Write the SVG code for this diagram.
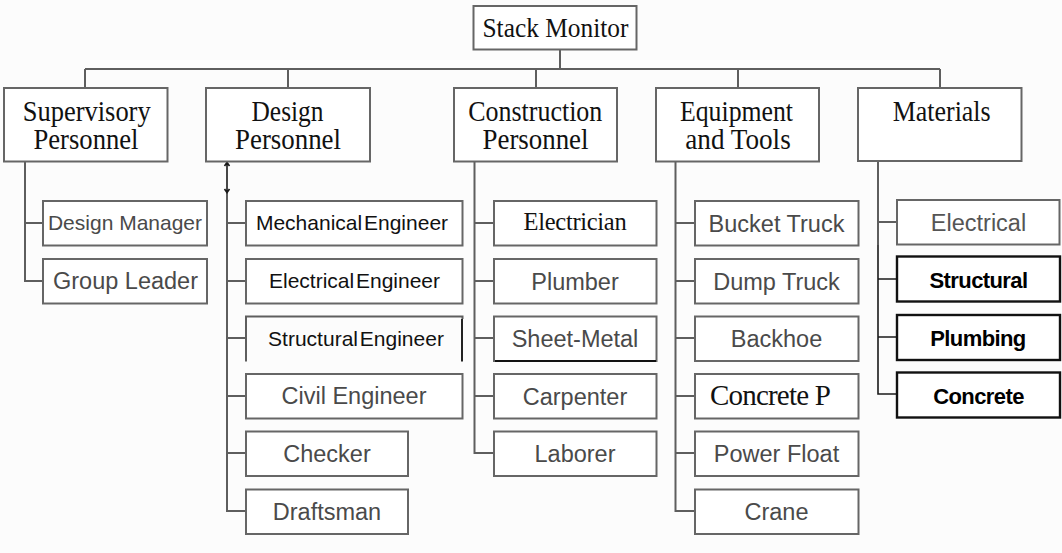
<svg xmlns="http://www.w3.org/2000/svg" width="1062" height="553" viewBox="0 0 1062 553">
<style>
.box{fill:#fff;stroke:#666;stroke-width:2}
.bbox{fill:#fff;stroke:#111;stroke-width:2.4}
.ln{fill:none;stroke:#5e5e5e;stroke-width:2}
.bln{fill:none;stroke:#1a1a1a;stroke-width:1.6}
.ser{font-family:"Liberation Serif","Times New Roman",serif;fill:#111;text-anchor:middle}
.top{font-size:28.5px}
.san{font-family:"Liberation Sans",Arial,sans-serif;fill:#4a4a4a;font-size:23.5px;text-anchor:middle}
.blk{font-family:"Liberation Sans",Arial,sans-serif;fill:#111;font-size:21px;text-anchor:middle;word-spacing:-4px}
.bold{font-family:"Liberation Sans",Arial,sans-serif;fill:#000;font-size:22px;font-weight:bold;text-anchor:middle;letter-spacing:-0.6px}
</style>
<rect width="1062" height="553" fill="#fcfcfc"/>

<g id="connectors">
  <path class="ln" d="M560,49.5V69 M85,69H940 M85,69V88 M288,69V88 M536,69V88 M738,69V88 M940,69V88"/>
  <path class="ln" d="M25,161V281H43 M25,223H43"/>
  <path class="ln" d="M227,192V511H246 M227,223H246 M227,281H246 M227,338H246 M227,396H246 M227,453H246"/>
  <path class="bln" d="M227,163V192 M224.5,166L227,162.5L229.5,166 M224.5,189L227,192.5L229.5,189"/>
  <path class="ln" d="M474.5,161V453H494 M474.5,223H494 M474.5,281H494 M474.5,338H494 M474.5,396H494"/>
  <path class="ln" d="M675.5,161V511H695 M675.5,223H695 M675.5,281H695 M675.5,338H695 M675.5,396H695 M675.5,453H695"/>
  <path class="ln" d="M878,161V245 M878,222H897"/>
  <path class="bln" d="M878,245V394H897 M878,279H897 M878,337H897"/>
</g>

<g id="stack-monitor">
  <rect class="box" x="473.5" y="6" width="163" height="43.5"/>
  <text class="ser" x="555.5" y="36.7" style="font-size:27.5px" textLength="146" lengthAdjust="spacingAndGlyphs">Stack Monitor</text>
</g>

<g id="supervisory-personnel">
  <rect class="box" x="4" y="88" width="163.5" height="73.5"/>
  <text class="ser top" x="86.7" y="120.7" textLength="128" lengthAdjust="spacingAndGlyphs">Supervisory</text>
  <text class="ser top" x="86" y="149" textLength="105" lengthAdjust="spacingAndGlyphs">Personnel</text>
</g>
<g id="design-personnel">
  <rect class="box" x="206" y="88" width="164" height="73.5"/>
  <text class="ser top" x="287.5" y="120.7" textLength="72" lengthAdjust="spacingAndGlyphs">Design</text>
  <text class="ser top" x="288" y="149" textLength="106" lengthAdjust="spacingAndGlyphs">Personnel</text>
</g>
<g id="construction-personnel">
  <rect class="box" x="454" y="88" width="163" height="73.5"/>
  <text class="ser top" x="535.3" y="120.7" textLength="134" lengthAdjust="spacingAndGlyphs">Construction</text>
  <text class="ser top" x="535.5" y="149" textLength="106" lengthAdjust="spacingAndGlyphs">Personnel</text>
</g>
<g id="equipment-and-tools">
  <rect class="box" x="656" y="88" width="163" height="73.5"/>
  <text class="ser top" x="736.5" y="120.7" textLength="113" lengthAdjust="spacingAndGlyphs">Equipment</text>
  <text class="ser top" x="738" y="149" textLength="105.5" lengthAdjust="spacingAndGlyphs">and Tools</text>
</g>
<g id="materials">
  <rect class="box" x="858" y="88" width="163.5" height="73"/>
  <text class="ser top" x="941.7" y="120.5" textLength="98" lengthAdjust="spacingAndGlyphs">Materials</text>
</g>

<g id="design-manager">
  <rect class="box" x="43" y="201" width="164" height="44.5"/>
  <text class="san" x="125" y="229.5" style="font-size:21px">Design Manager</text>
</g>
<g id="group-leader">
  <rect class="box" x="43" y="259" width="164" height="44.5"/>
  <text class="san" x="125.5" y="289">Group Leader</text>
</g>

<g id="mechanical-engineer">
  <rect class="box" x="246" y="201" width="216.5" height="44.5"/>
  <text class="blk" x="352" y="230">Mechanical Engineer</text>
</g>
<g id="electrical-engineer">
  <rect class="box" x="246" y="259" width="216.5" height="44.5"/>
  <text class="blk" x="354.5" y="287.5">Electrical Engineer</text>
</g>
<g id="structural-engineer">
  <path class="ln" d="M246,361.5V316.5H462.5V319"/>
  <path d="M462,319V361.5" stroke="#222" stroke-width="2" fill="none"/>
  <text class="blk" x="356" y="345.5">Structural Engineer</text>
</g>
<g id="civil-engineer">
  <rect class="box" x="246" y="374" width="216.5" height="44.5"/>
  <text class="san" x="354" y="404">Civil Engineer</text>
</g>
<g id="checker">
  <rect class="box" x="246" y="431.5" width="162" height="44.5"/>
  <text class="san" x="327" y="462">Checker</text>
</g>
<g id="draftsman">
  <rect class="box" x="246" y="489.5" width="162" height="44.5"/>
  <text class="san" x="327" y="520">Draftsman</text>
</g>

<g id="electrician">
  <rect class="box" x="494" y="201" width="162.5" height="44.5"/>
  <text class="ser" x="575" y="229.5" style="font-size:24.5px" letter-spacing="-0.3">Electrician</text>
</g>
<g id="plumber">
  <rect class="box" x="494" y="259" width="162.5" height="44.5"/>
  <text class="san" x="575" y="289.5">Plumber</text>
</g>
<g id="sheet-metal">
  <rect class="box" x="494" y="316.5" width="162.5" height="44.5"/>
  <path d="M495,361H656" stroke="#111" stroke-width="2.2"/>
  <text class="san" x="575" y="347">Sheet-Metal</text>
</g>
<g id="carpenter">
  <rect class="box" x="494" y="374" width="162.5" height="44.5"/>
  <text class="san" x="575" y="404.5">Carpenter</text>
</g>
<g id="laborer">
  <rect class="box" x="494" y="431.5" width="162.5" height="44.5"/>
  <text class="san" x="575" y="462">Laborer</text>
</g>

<g id="bucket-truck">
  <rect class="box" x="695" y="201" width="163.5" height="44.5"/>
  <text class="san" x="776.5" y="231.5">Bucket Truck</text>
</g>
<g id="dump-truck">
  <rect class="box" x="695" y="259" width="163.5" height="44.5"/>
  <text class="san" x="776.5" y="289.5">Dump Truck</text>
</g>
<g id="backhoe">
  <rect class="box" x="695" y="316.5" width="163.5" height="44.5"/>
  <text class="san" x="776.5" y="347">Backhoe</text>
</g>
<g id="concrete-p">
  <rect class="box" x="695" y="374" width="163.5" height="44.5"/>
  <text class="ser" x="770" y="404.5" style="font-size:29px" letter-spacing="-0.8">Concrete P</text>
</g>
<g id="power-float">
  <rect class="box" x="695" y="431.5" width="163.5" height="44.5"/>
  <text class="san" x="776.5" y="462">Power Float</text>
</g>
<g id="crane">
  <rect class="box" x="695" y="489.5" width="163.5" height="44.5"/>
  <text class="san" x="776.5" y="520">Crane</text>
</g>

<g id="electrical">
  <rect class="box" x="897" y="200" width="162.5" height="44.5"/>
  <text class="san" x="978.5" y="230.5" style="fill:#555">Electrical</text>
</g>
<g id="structural">
  <rect class="bbox" x="897" y="256.5" width="163" height="45"/>
  <text class="bold" x="978.5" y="287.5">Structural</text>
</g>
<g id="plumbing">
  <rect class="bbox" x="897" y="315" width="163" height="45"/>
  <text class="bold" x="978" y="346">Plumbing</text>
</g>
<g id="concrete">
  <rect class="bbox" x="897" y="372.5" width="163" height="45"/>
  <text class="bold" x="978.5" y="403.5">Concrete</text>
</g>
</svg>
